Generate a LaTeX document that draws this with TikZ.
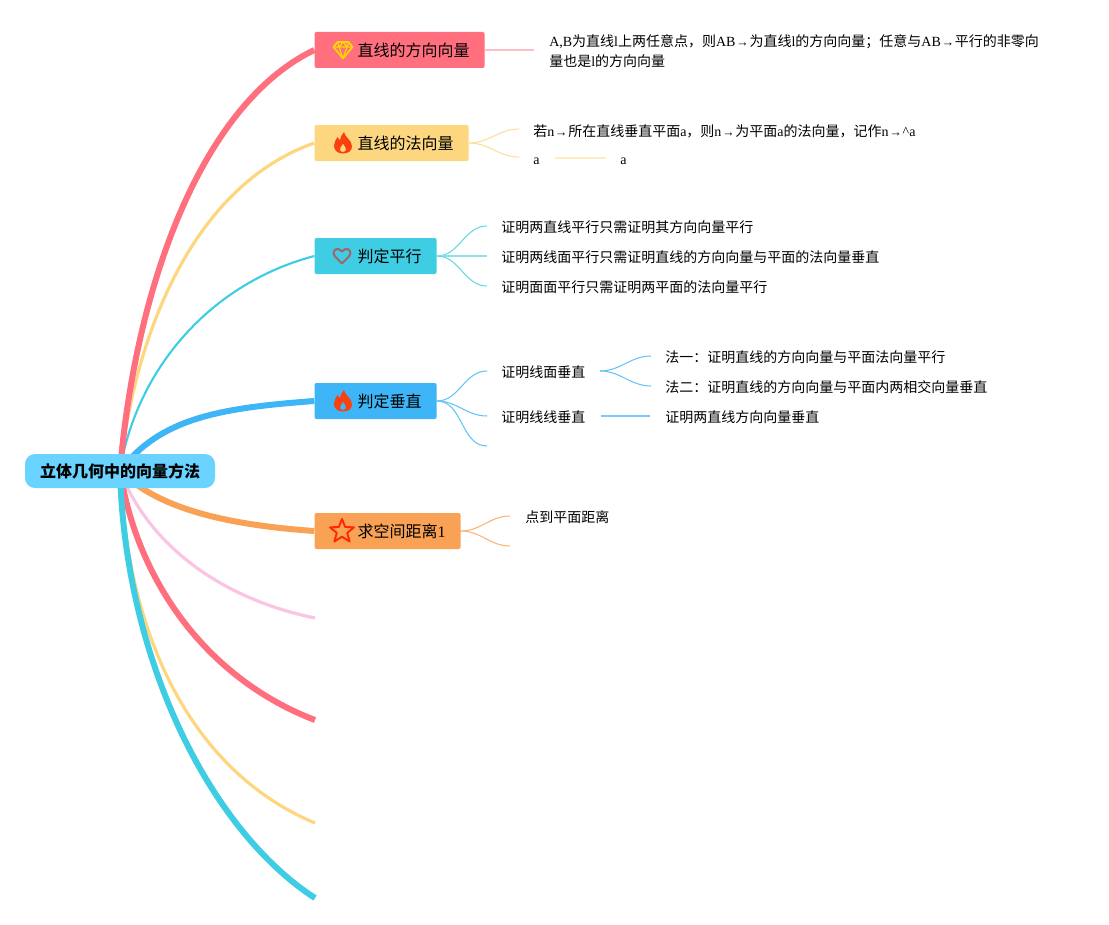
\documentclass[tikz,border=0pt]{standalone}
\usepackage{fontspec}
\setmainfont{Noto Sans CJK SC}
\newfontfamily\latinfont{Liberation Serif}
\newcommand{\en}[1]{{\latinfont #1}}
\newcommand{\vecarr}{\makebox[10.5pt]{\latinfont\fontsize{9.5}{9.5}\selectfont →}}
\usetikzlibrary{backgrounds}
\definecolor{cred}{HTML}{FF6F7D}
\definecolor{cyellow}{HTML}{FDD680}
\definecolor{cteal}{HTML}{3ECDE2}
\definecolor{cblue}{HTML}{3DB5F6}
\definecolor{corange}{HTML}{F9A154}
\definecolor{cpink}{HTML}{FBC4E2}
\definecolor{croot}{HTML}{6AD3FF}
\definecolor{cflame}{HTML}{F9400D}
\definecolor{cheart}{HTML}{A4626A}
\tikzset{
  topic/.style={anchor=west,fill=#1,rounded corners=1.5pt,inner xsep=11.25pt,inner ysep=0pt,
    minimum height=27pt,font=\fontsize{12}{14}\selectfont},
  leaf/.style={anchor=west,inner sep=0pt,font=\fontsize{10.5}{15}\selectfont,text height=9pt,text depth=2pt},
  twig/.style={#1,line width=.8pt,out=0,in=180},
  stem/.style={#1,line width=1.1pt},
  flame/.pic={
    \fill[cflame,even odd rule] (0,10.5) .. controls (-6,10.5) and (-9,7) .. (-9,2.5)
      .. controls (-9,-1) and (-7,-3) .. (-5.5,-6) .. controls (-4.5,-4.5) and (-4,-3.5) .. (-3,-3)
      .. controls (-2.5,-6) and (-1,-9) .. (1,-11) .. controls (1.5,-6) and (9,-3) .. (9,3.5)
      .. controls (9,8) and (5,10.5) .. (0,10.5) -- cycle
      (0,9) .. controls (-3,9) and (-4,6.5) .. (-2.5,4.5)
      .. controls (-1.5,3) and (-.5,2) .. (0,.5) .. controls (1.5,3) and (3.5,5) .. (3,7)
      .. controls (2.5,8.5) and (1,9) .. (0,9) -- cycle;
  },
  gem/.pic={
    \draw[yellow!75!orange,line width=1.3pt,line join=round]
      (-5.5,-8) -- (5.5,-8) -- (9.5,-3) -- (0,8.5) -- (-9.5,-3) -- cycle;
    \draw[yellow!75!orange,line width=.9pt,line join=round] (-9.5,-3) -- (9.5,-3) (-4,-3) -- (0,8.5) -- (4,-3)
      (-5.5,-8) -- (-4,-3) -- (0,-8) -- (4,-3) -- (5.5,-8);
  },
  heart/.pic={
    \draw[cheart,line width=1.5pt,line join=round] (0,7.5) -- (-7,0.5)
      .. controls (-11,-4) and (-6,-9) .. (-2.5,-6.5) -- (0,-4.5) -- (2.5,-6.5)
      .. controls (6,-9) and (11,-4) .. (7,0.5) -- cycle;
  },
  star/.pic={
    \draw[red!70!orange,line width=1.4pt,line join=round]
      (0,-12) -- (3.2,-4) -- (12,-3.7) -- (5.2,1.9) -- (7.6,10.5) -- (0,5.7)
      -- (-7.6,10.5) -- (-5.2,1.9) -- (-12,-3.7) -- (-3.2,-4) -- cycle;
  },
}
\begin{document}
\begin{tikzpicture}[x=.75pt,y=-.75pt]
  \useasboundingbox (0,0) rectangle (1109,924);
  \node[anchor=center,fill=croot,rounded corners=7.5pt,minimum width=142.5pt,minimum height=25.5pt,inner sep=0pt,
    font=\fontsize{12}{14}\selectfont\bfseries] (root) at (120,471) {立体几何中的向量方法};
  \node[topic=cred] (t1) at (314.3,50) {\hspace*{21pt}直线的方向向量};
  \node[topic=cyellow] (t2) at (314.3,143) {\hspace*{21pt}直线的法向量};
  \node[topic=cteal] (t3) at (314.3,256) {\hspace*{21pt}判定平行};
  \node[topic=cblue] (t4) at (314.3,401) {\hspace*{21pt}判定垂直};
  \node[topic=corange] (t5) at (314.3,531) {\hspace*{21pt}求空间距离\en{1}};
  \pic at (343,50) {gem};
  \pic at (343,143) {flame};
  \pic at (342,256) {heart};
  \pic at (343,401) {flame};
  \pic at (342,531) {star};
  % leaves
  \node[leaf,anchor=north west,align=left,text height=,text depth=] (l11) at (549,34)
    {\en{A,B}为直线\en{l}上两任意点，则\en{AB}\vecarr 为直线\en{l}的方向向量；任意与\en{AB}\vecarr 平行的非零向\\量也是\en{l}的方向向量};
  \node[leaf] (l21) at (533,132) {若\en{n}\vecarr 所在直线垂直平面\en{a}，则\en{n}\vecarr 为平面\en{a}的法向量，记作\en{n}\vecarr\en{\^{}a}};
  \node[leaf] (l22) at (533,160) {\en{a}};
  \node[leaf] (l23) at (620,160) {\en{a}};
  \node[leaf] (l31) at (501,228) {证明两直线平行只需证明其方向向量平行};
  \node[leaf] (l32) at (501,258) {证明两线面平行只需证明直线的方向向量与平面的法向量垂直};
  \node[leaf] (l33) at (501,288) {证明面面平行只需证明两平面的法向量平行};
  \node[leaf] (l41) at (501,373) {证明线面垂直};
  \node[leaf] (l42) at (501,418) {证明线线垂直};
  \node[leaf] (l43) at (665,358) {法一：证明直线的方向向量与平面法向量平行};
  \node[leaf] (l44) at (665,388) {法二：证明直线的方向向量与平面内两相交向量垂直};
  \node[leaf] (l45) at (665,418) {证明两直线方向向量垂直};
  \node[leaf] (l51) at (525,518) {点到平面距离};
  % free ends
  \coordinate (e1) at (534,50);
  \coordinate (e21) at (519,129);
  \coordinate (e22) at (519,157);
  \coordinate (e31) at (487,226);
  \coordinate (e32) at (487,256);
  \coordinate (e33) at (487,286);
  \coordinate (e41) at (487,371);
  \coordinate (e42) at (487,416);
  \coordinate (e43) at (487,446);
  \coordinate (s41) at (600,371);
  \coordinate (e44) at (651,356);
  \coordinate (e45) at (651,386);
  \coordinate (e51) at (510,516);
  \coordinate (e52) at (510,546);
  \coordinate (b6) at (315,618);
  \coordinate (b7) at (315,720);
  \coordinate (b8) at (315,823);
  \coordinate (b9) at (315,898);
  \begin{scope}[on background layer]
    \draw [cyellow,line width=2.4pt] (root.center) .. controls (135,330) and (195,185) .. (t2.west);
    \draw [cteal,line width=1.6pt] (root.center) .. controls (135,375) and (205,285) .. (t3.west);
    \draw [cred,line width=4.5pt] (root.center) .. controls (135,290) and (200,105) .. (t1.west);
    \draw [cblue,line width=4.5pt] (root.center) .. controls (160,418) and (220,408) .. (t4.west);
    \draw [corange,line width=4.5pt] (root.center) .. controls (160,510) and (230,525) .. (t5.west);
    \draw [cpink,line width=2.4pt] (root.center) .. controls (148,543) and (218,598) .. (b6);
    \draw [cyellow,line width=2.4pt] (root.center) .. controls (128,650) and (200,775) .. (b8);
    \draw [cred,line width=4.5pt] (root.center) .. controls (138,585) and (210,680) .. (b7);
    \draw [cteal,line width=4.5pt] (root.center) .. controls (125,660) and (210,830) .. (b9);
  \end{scope}
  \draw [stem=cred!45!white] (t1.east) -- (e1);
  \draw [twig=cyellow!80!white] (t2.east) to (e21);
  \draw [twig=cyellow!80!white] (t2.east) to (e22);
  \draw [stem=cyellow!50!white,shorten <=11.25pt,shorten >=10.5pt] ([yshift=1.5pt]l22.east) -- ([yshift=1.5pt]l23.west);
  \draw [twig=cteal!80!white] (t3.east) to (e31);
  \draw [stem=cteal!60!white] (t3.east) -- (e32);
  \draw [twig=cteal!80!white] (t3.east) to (e33);
  \draw [twig=cblue!80!white] (t4.east) to (e41);
  \draw [twig=cblue!80!white] (t4.east) to (e42);
  \draw [twig=cblue!80!white] (t4.east) to (e43);
  \draw [twig=cblue!80!white] (s41) to (e44);
  \draw [twig=cblue!80!white] (s41) to (e45);
  \draw [stem=cblue!70!white,line width=.8pt,shorten <=11.25pt,shorten >=11.25pt] ([yshift=1.5pt]l42.east) -- ([yshift=1.5pt]l45.west);
  \draw [twig=corange!80!white] (t5.east) to (e51);
  \draw [twig=corange!80!white] (t5.east) to (e52);
\end{tikzpicture}
\end{document}
